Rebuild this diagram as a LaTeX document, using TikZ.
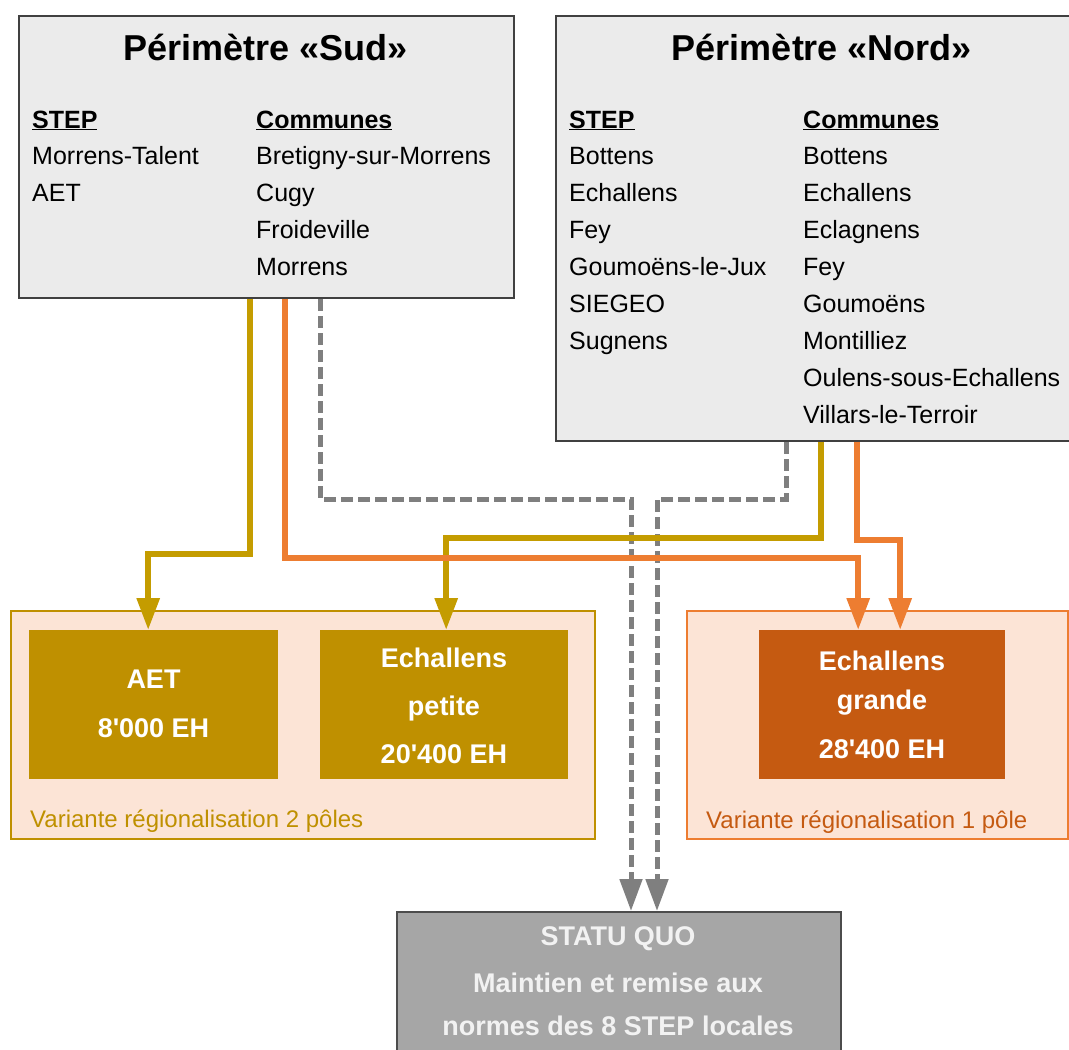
\documentclass[tikz,border=0pt]{standalone}
\usepackage{fontspec}
\setmainfont{Liberation Sans}
\usetikzlibrary{arrows.meta}
\definecolor{goldc}{HTML}{BF9000}
\definecolor{goldline}{HTML}{C49C00}
\definecolor{orangec}{HTML}{ED7D31}
\definecolor{darkorange}{HTML}{C55A11}
\definecolor{peach}{HTML}{FCE4D6}
\definecolor{boxgray}{HTML}{EBEBEB}
\definecolor{sqgray}{HTML}{A6A6A6}
\definecolor{dashgray}{HTML}{7F7F7F}
\begin{document}
\begin{tikzpicture}[x=1pt,y=-1pt,
  perim/.style={draw=black!75, line width=2pt, fill=boxgray, anchor=north west, inner sep=0},
  grp/.style={line width=2pt, fill=peach, anchor=north west, inner sep=0},
  stepbox/.style={anchor=north west, inner sep=0},
  title/.style={anchor=base, inner sep=0, font=\fontsize{36}{40}\selectfont\bfseries},
  txt/.style={anchor=base west, inner sep=0, font=\fontsize{25}{30}\selectfont},
  hdr/.style={txt, font=\fontsize{25}{30}\selectfont\bfseries},
  boxtxt/.style={anchor=base, inner sep=0, text=white, font=\fontsize{27}{30}\selectfont\bfseries},
  captxt/.style={anchor=base west, inner sep=0, font=\fontsize{24}{28}\selectfont},
  arr/.style={-{Triangle[length=32pt,width=22pt]}},
  goldl/.style={arr, draw=goldline, line width=6pt},
  orangel/.style={arr, draw=orangec, line width=6pt},
  dashl/.style={arr, draw=dashgray, line width=5pt, dash pattern=on 12pt off 5pt}
]
\useasboundingbox (0,0) rectangle (1069,1050);

% Perimetre Sud
\node[perim, minimum width=495pt, minimum height=282pt] (sud) at (18,15) {};
\node[title] (sudtitle) at (265.5,60) {Périmètre «Sud»};
\node[hdr] (sudstep) at (32,128) {\underline{STEP}};
\node[hdr] (sudcom) at (256,128) {\underline{Communes}};
\foreach \t [count=\i] in {Morrens-Talent,AET}
  \node[txt] (suds\i) at (32,{164+37*(\i-1)}) {\t};
\foreach \t [count=\i] in {Bretigny-sur-Morrens,Cugy,Froideville,Morrens}
  \node[txt] (sudc\i) at (256,{164+37*(\i-1)}) {\t};

% Perimetre Nord
\node[perim, minimum width=520pt, minimum height=425pt] (nord) at (555,15) {};
\node[title] (nordtitle) at (822,60) {Périmètre «Nord»};
\node[hdr] (nordstep) at (569,128) {\underline{STEP}};
\node[hdr] (nordcom) at (803,128) {\underline{Communes}};
\foreach \t [count=\i] in {Bottens,Echallens,Fey,Goumoëns-le-Jux,SIEGEO,Sugnens}
  \node[txt] (nords\i) at (569,{164+37*(\i-1)}) {\t};
\foreach \t [count=\i] in {Bottens,Echallens,Eclagnens,Fey,Goumoëns,Montilliez,Oulens-sous-Echallens,Villars-le-Terroir}
  \node[txt] (nordc\i) at (803,{164+37*(\i-1)}) {\t};

% Variante 2 poles
\node[grp, draw=goldc, minimum width=584pt, minimum height=228pt] (g2) at (10,610) {};
\node[stepbox, fill=goldc, minimum width=249pt, minimum height=149pt] (aet) at (29,630) {};
\node[boxtxt] (aett1) at (153.5,688) {AET};
\node[boxtxt] (aett2) at (153.5,737) {8\textquotesingle000 EH};
\node[stepbox, fill=goldc, minimum width=248pt, minimum height=149pt] (petite) at (320,630) {};
\node[boxtxt] (pet1) at (444,667) {Echallens};
\node[boxtxt] (pet2) at (444,715) {petite};
\node[boxtxt] (pet3) at (444,763) {20\textquotesingle400 EH};
\node[captxt, text=goldc] (cap2) at (30,827) {Variante régionalisation 2 pôles};

% Variante 1 pole
\node[grp, draw=orangec, minimum width=381pt, minimum height=228pt] (g1) at (686,610) {};
\node[stepbox, fill=darkorange, minimum width=246pt, minimum height=149pt] (grande) at (759,630) {};
\node[boxtxt] (gr1) at (882,670) {Echallens};
\node[boxtxt] (gr2) at (882,709) {grande};
\node[boxtxt] (gr3) at (882,758) {28\textquotesingle400 EH};
\node[captxt, text=darkorange] (cap1) at (706,828) {Variante régionalisation 1 pôle};

% Statu quo
\node[stepbox, draw=black!70, line width=2pt, fill=sqgray, minimum width=444pt, minimum height=150pt] (sq) at (396,911) {};
\node[boxtxt, text=white!95!black] (sq1) at (618,945) {STATU QUO};
\node[boxtxt, text=white!95!black] (sq2) at (618,992) {Maintien et remise aux};
\node[boxtxt, text=white!95!black] (sq3) at (618,1035) {normes des 8 STEP locales};

% connectors
\draw[dashl] ([xshift=53.5pt]sud.south) -- ++(0,200) -| ([xshift=12pt]sq.north);
\draw[dashl] ([xshift=-30pt]nord.south) -- ++(0,57) -| ([xshift=38pt]sq.north);
\draw[goldl] ([xshift=-16.5pt]sud.south) -- ++(0,255) -| ([xshift=-5.5pt]aet.north);
\draw[goldl] ([xshift=5pt]nord.south) -- ++(0,96) -| ([xshift=2pt]petite.north);
\draw[orangel] ([xshift=18.5pt]sud.south) -- ++(0,259) -| ([xshift=-24pt]grande.north);
\draw[orangel] ([xshift=41pt]nord.south) -- ++(0,98) -| ([xshift=18pt]grande.north);
\end{tikzpicture}
\end{document}
